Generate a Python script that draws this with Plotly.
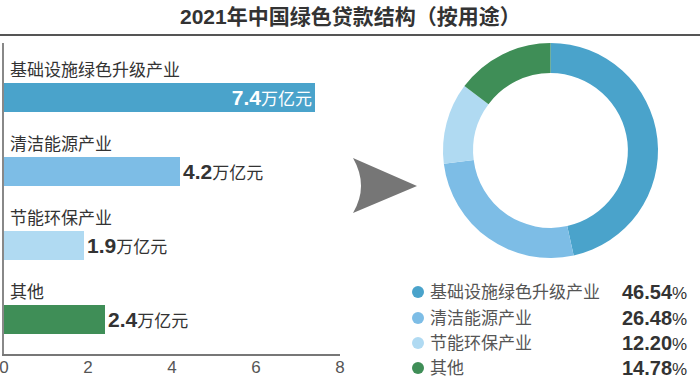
import plotly.graph_objects as go

title = "2021年中国绿色贷款结构（按用途）"
categories = ["基础设施绿色升级产业", "清洁能源产业", "节能环保产业", "其他"]
amounts = [7.4, 4.2, 1.9, 2.4]          # 万亿元
shares = [46.54, 26.48, 12.20, 14.78]   # %
colors = ["#4AA3CB", "#7DBDE6", "#B0DAF2", "#3F8E57"]
x_ticks = [0, 2, 4, 6, 8]

W, H = 700, 379
FONT = "Liberation Sans, Noto Sans CJK SC, sans-serif"

def px(x):
    return x / W

def py(y):
    return 1 - y / H

n = len(categories)
ypos = [n - 1 - i for i in range(n)]

fig = go.Figure()

bar_text = [f"<b>{v}</b><span style='font-size:17px'>万亿元</span>" for v in amounts]
positions = ["inside"] + ["outside"] * (n - 1)
text_colors = ["white"] + ["#333333"] * (n - 1)

fig.add_trace(go.Bar(
    x=amounts, y=ypos, orientation="h",
    marker=dict(color=colors, line=dict(width=0)),
    width=0.38,
    text=bar_text, textposition=positions, insidetextanchor="end",
    textfont=dict(family=FONT, size=21, color=text_colors),
    cliponaxis=False, hoverinfo="skip", showlegend=False,
))

fig.add_trace(go.Pie(
    values=shares, labels=categories, sort=False, direction="clockwise",
    rotation=0, hole=0.72, textinfo="none",
    marker=dict(colors=colors, line=dict(width=0)),
    domain=dict(x=[px(443), px(658)], y=[py(258), py(43)]),
    showlegend=False, hoverinfo="label+percent",
))

annotations = []
annotations.append(dict(
    text=f"<b>{title}</b>", x=0.5, y=py(17), xref="paper", yref="paper",
    xanchor="center", yanchor="middle", showarrow=False,
    font=dict(family=FONT, size=21, color="#333333"),
))
for i, c in enumerate(categories):
    annotations.append(dict(
        text=c, x=0.1, y=ypos[i] + 0.37, xref="x", yref="y",
        xanchor="left", yanchor="middle", showarrow=False,
        font=dict(family=FONT, size=17, color="#333333"),
    ))

row_y = [292, 318, 343, 368]
shapes = []
for i, c in enumerate(categories):
    annotations.append(dict(
        text=c, x=px(428), y=py(row_y[i]), xref="paper", yref="paper",
        xanchor="left", yanchor="middle", showarrow=False,
        font=dict(family=FONT, size=17, color="#555555"),
    ))
    annotations.append(dict(
        text=f"<b>{shares[i]:.2f}</b><span style='font-size:17px'>%</span>",
        x=px(689), y=py(row_y[i]), xref="paper", yref="paper",
        xanchor="right", yanchor="middle", showarrow=False,
        font=dict(family=FONT, size=20, color="#333333"),
    ))
    r = 6
    cx, cy = 418, row_y[i]
    shapes.append(dict(
        type="circle", xref="paper", yref="paper",
        x0=px(cx - r), x1=px(cx + r), y0=py(cy + r), y1=py(cy - r),
        fillcolor=colors[i], line=dict(width=0),
    ))

# title rule
shapes.append(dict(type="line", xref="paper", yref="paper",
                   x0=0, x1=1, y0=py(35), y1=py(35),
                   line=dict(color="#555555", width=2)))

# arrow
ax0, ax1, ay0, aym, ay1 = 353, 417, 158, 186, 213
path = (f"M {px(ax0)},{py(ay0)} L {px(ax1)},{py(aym)} L {px(ax0)},{py(ay1)} "
        f"Q {px(ax0 + 16)},{py(aym)} {px(ax0)},{py(ay0)} Z")
shapes.append(dict(type="path", xref="paper", yref="paper", path=path,
                   fillcolor="#767676", line=dict(width=0)))

fig.update_layout(
    width=W, height=H,
    margin=dict(l=0, r=0, t=0, b=0, autoexpand=False),
    paper_bgcolor="white", plot_bgcolor="white",
    font=dict(family=FONT),
    xaxis=dict(domain=[px(4), px(340)], range=[0, 8], tickvals=x_ticks,
               showgrid=False, zeroline=False, showline=True,
               linecolor="#777777", linewidth=2, ticks="",
               ticklabeloverflow="allow", automargin=False,
               ticklabelstandoff=-3,
               tickfont=dict(family="Liberation Sans, sans-serif", size=17, color="#555555"),
               fixedrange=True),
    yaxis=dict(domain=[py(354), py(43)], range=[-0.466, 3.736],
               showgrid=False, zeroline=False, showline=True,
               linecolor="#888888", linewidth=2, showticklabels=False,
               ticks="", fixedrange=True, automargin=False),
    annotations=annotations,
    shapes=shapes,
    bargap=0,
)

fig.write_html("out.html", config={"displayModeBar": False},
               post_script="document.body.style.margin='0';document.body.style.padding='0';")
